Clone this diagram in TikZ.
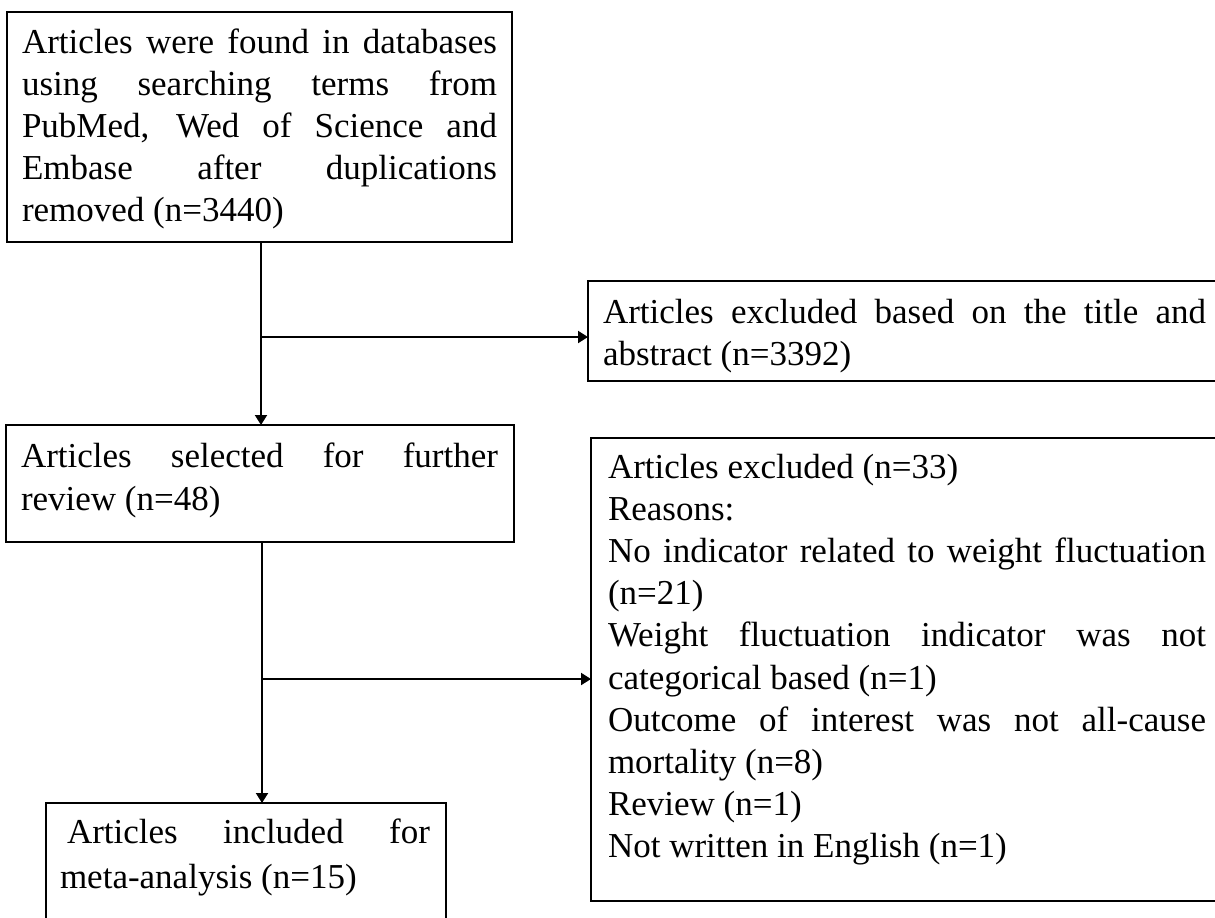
\documentclass[tikz,border=0pt]{standalone}
\usepackage{fontspec}
\setmainfont{Liberation Serif}
\usetikzlibrary{arrows.meta}
\newcommand{\jl}[2]{\hbox{\makebox[#1][s]{#2}}}
\newcommand{\nl}[1]{\hbox{#1}}
\tikzset{
  box/.style={draw, line width=1pt, rectangle, inner sep=0pt, outer sep=0pt, anchor=north west},
  txt/.style={inner sep=0pt, outer sep=0pt, anchor=base west, font=\fontsize{17.5pt}{21.1pt}\selectfont},
  arr/.style={line width=1pt, -{Triangle[length=5pt,width=6pt]}},
}
\begin{document}
\begin{tikzpicture}[x=0.5pt,y=-0.5pt]
\useasboundingbox (0,0) rectangle (1215,917);
\clip (0,0) rectangle (1215,917);
\fill[white] (0,0) rectangle (1215,917);
% boxes
\node[box, minimum width=252.5pt, minimum height=115pt] (b1) at (7,12) {};
\node[box, minimum width=254pt, minimum height=58.5pt] (b2) at (6,425) {};
\node[box, minimum width=320pt, minimum height=50pt] (e1) at (588,281) {};
\node[box, minimum width=318.5pt, minimum height=231.5pt] (e2) at (591,438) {};
\node[box, minimum width=200pt, minimum height=66pt] (b3) at (46,803) {};
% texts
\node[txt] (t1) at (22,53) {\vtop{\baselineskip=21.1pt
  \jl{237.5pt}{Articles were found in databases}
  \jl{237.5pt}{using searching terms from}
  \jl{237.5pt}{PubMed, Wed of Science and}
  \jl{237.5pt}{Embase after duplications}
  \nl{removed (n=3440)}}};
\node[txt] (t2) at (21,467) {\vtop{\baselineskip=21.5pt
  \jl{238.5pt}{Articles selected for further}
  \nl{review (n=48)}}};
\node[txt] (t3) at (603,323) {\vtop{\baselineskip=21.1pt
  \jl{301.5pt}{Articles excluded based on the title and}
  \nl{abstract (n=3392)}}};
\node[txt] (t4) at (608,478) {\vtop{\baselineskip=21.1pt
  \nl{Articles excluded (n=33)}
  \nl{Reasons:}
  \jl{299pt}{No indicator related to weight fluctuation}
  \nl{(n=21)}
  \jl{299pt}{Weight fluctuation indicator was not}
  \nl{categorical based (n=1)}
  \jl{299pt}{Outcome of interest was not all-cause}
  \nl{mortality (n=8)}
  \nl{Review (n=1)}
  \nl{Not written in English (n=1)}}};
\node[txt] (t5) at (60,843) {\vtop{\baselineskip=22.5pt
  \hbox{\hspace{3.5pt}\makebox[181.5pt][s]{Articles included for}}
  \nl{meta-analysis (n=15)}}};
% connectors
\coordinate (c1) at (261,0);
\coordinate (j1) at (261,337);
\coordinate (c2) at (262,0);
\coordinate (j2) at (262,679);
\draw[arr] (b1.south -| c1) -- (b2.north -| c1);
\draw[arr] (j1) -- (j1 -| e1.west);
\draw[arr] (b2.south -| c2) -- (b3.north -| c2);
\draw[arr] (j2) -- (j2 -| e2.west);
\end{tikzpicture}
\end{document}
